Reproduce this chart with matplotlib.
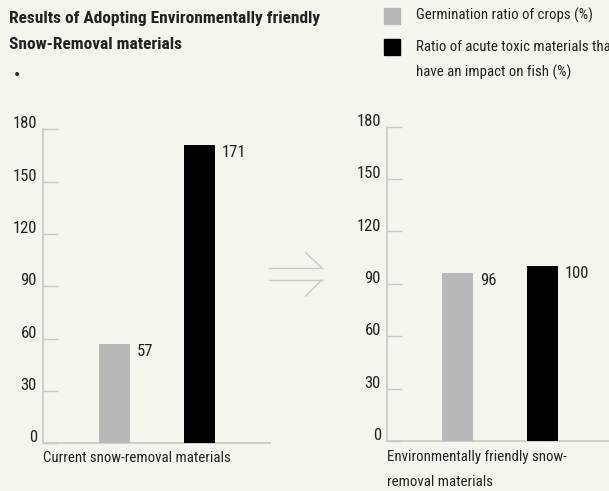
import matplotlib
matplotlib.use("Agg")
import matplotlib.pyplot as plt
from matplotlib.transforms import ScaledTranslation
from matplotlib.lines import Line2D
from matplotlib.patches import Rectangle

plt.rcParams['font.family'] = ['Roboto Condensed', 'DejaVu Sans']

# ---- data ----
series_names = [["Germination ratio of crops (%)"],
                ["Ratio of acute toxic materials that", "have an impact on fish (%)"]]
current_values = [57, 171]
friendly_values = [96, 100]
yticks = [0, 30, 60, 90, 120, 150, 180]
current_label = ["Current snow-removal materials"]
friendly_label = ["Environmentally friendly snow-", "removal materials"]
title_lines = ["Results of Adopting Environmentally friendly", "Snow-Removal materials"]

BG = "#f5f5ee"
GRAY = "#b8b8b8"
BLACK = "#000000"
AXC = "#c8c8c8"
TXT = "#222222"
colors = [GRAY, BLACK]

W, H = 609, 491
fig = plt.figure(figsize=(W / 100, H / 100), dpi=100, facecolor=BG)


def fx(x):
    return x / W


def fy(y):
    return 1 - y / H


def px_axes(x0, x1, y_top, y_bot):
    return fig.add_axes([fx(x0), fy(y_bot), (x1 - x0) / W, (y_bot - y_top) / H])


def style_panel(ax, values, xlim, xlabel_lines, label_x, label_y0):
    ax.set_facecolor("none")
    ax.set_ylim(0, 180)
    ax.set_xlim(*xlim)
    for i, v in enumerate(values):
        ax.bar(i, v, width=0.36, color=colors[i], zorder=3)
        ax.annotate(str(v), xy=(i + 0.18, v), xytext=(5.2, -5.2),
                    textcoords="offset points", ha="left", va="center",
                    fontsize=12, color=TXT)
    for s in ["top", "right"]:
        ax.spines[s].set_visible(False)
    for s in ["left", "bottom"]:
        ax.spines[s].set_color(AXC)
        ax.spines[s].set_linewidth(1.2)
    ax.set_yticks(yticks)
    ax.set_yticklabels([str(t) for t in yticks])
    ax.tick_params(axis="y", direction="in", length=10.6, width=1.0, color=AXC,
                   pad=4.5, labelsize=12, labelcolor=TXT)
    ax.set_xticks([])
    off = ScaledTranslation(0, 5.0 / 72, fig.dpi_scale_trans)
    for lab in ax.get_yticklabels():
        lab.set_transform(lab.get_transform() + off)
    for k, line in enumerate(xlabel_lines):
        fig.text(fx(label_x), fy(label_y0 + 25 * k), line, ha="left", va="center",
                 fontsize=10.7, color=TXT)


ax1 = px_axes(43, 270, 129.3, 443.3)
style_panel(ax1, current_values, (-0.841, 1.829), current_label, 43, 458)

ax2 = px_axes(387, 609, 126.7, 441)
style_panel(ax2, friendly_values, (-0.831, 1.787), friendly_label, 387, 457)

# title and bullet
for k, line in enumerate(title_lines):
    fig.text(fx(9), fy(19 + 25.5 * k), line, ha="left", va="center", fontsize=12.5,
             fontweight="bold", color=TXT)
fig.text(fx(13.5), fy(76.5), "\u2022", ha="left", va="center", fontsize=13, color=TXT)

# legend
leg_y = [15.5, 47]
for c, lines, y in zip(colors, series_names, leg_y):
    fig.patches.append(Rectangle((fx(384), fy(y + 8)), 16 / W, 16 / H,
                                 transform=fig.transFigure, color=c))
    for k, line in enumerate(lines):
        fig.text(fx(415.7), fy(y + 25 * k), line, ha="left", va="center",
                 fontsize=10.7, color=TXT)

# arrow between panels
def fl(xs, ys):
    fig.add_artist(Line2D([fx(x) for x in xs], [fy(y) for y in ys],
                          color=AXC, lw=1.0, transform=fig.transFigure))

fl([269, 322], [268.3, 268.3])
fl([269, 322], [280, 280])
fl([305.7, 321.7], [252.7, 267.7])
fl([321.7, 305.7], [280, 296])

fig.savefig("out.png", dpi=100, facecolor=BG)
